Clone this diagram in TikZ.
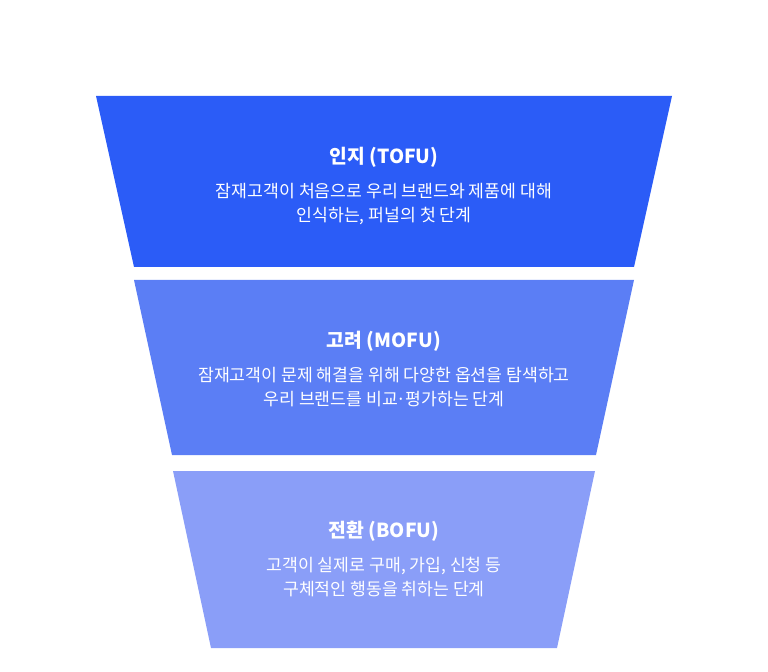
\documentclass[tikz,border=0pt]{standalone}
\usepackage{fontspec}
\setmainfont{Noto Sans CJK KR}
\usepackage{tikz}
\usetikzlibrary{positioning, calc}
\definecolor{tofublue}{HTML}{2B5CF7}
\definecolor{mofublue}{HTML}{5B7EF5}
\definecolor{bofublue}{HTML}{8A9EF8}
\newcommand{\middot}{\kern-0.06em·\kern-0.06em}

\begin{document}
\begin{tikzpicture}[
  x=0.02cm, y=-0.02cm,
  stage/.style={draw=none},
  title/.style={font=\fontsize{11pt}{13pt}\selectfont\bfseries, text=white,
                inner sep=0pt},
  descr/.style={font=\fontsize{9.8pt}{13.9pt}\selectfont, text=white,
                align=center, inner sep=0pt},
]
\useasboundingbox (0,0) rectangle (768,672);

%% Funnel stages (top = awareness, bottom = conversion)
\fill[stage, tofublue] (96,96) -- (672,96) -- (634,267) -- (134,267) -- cycle;
\fill[stage, mofublue] (134,280) -- (634,280) -- (596,455) -- (172,455) -- cycle;
\fill[stage, bofublue] (173,471) -- (595,471) -- (557,648) -- (211,648) -- cycle;

%% Stage titles
\node[title] (tofu) at (384,157) {인지 (TOFU)};
\node[title] (mofu) at (384,341) {고려 (MOFU)};
\node[title] (bofu) at (384,531) {전환 (BOFU)};

%% Stage descriptions
\node[descr] (tofud) at (384,204)
  {잠재고객이 처음으로 우리 브랜드와 제품에 대해\\인식하는, 퍼널의 첫 단계};
\node[descr] (mofud) at (384,387)
  {잠재고객이 문제 해결을 위해 다양한 옵션을 탐색하고\\우리 브랜드를 비교\middot 평가하는 단계};
\node[descr] (bofud) at (384,577)
  {고객이 실제로 구매, 가입, 신청 등\\구체적인 행동을 취하는 단계};
\end{tikzpicture}
\end{document}
